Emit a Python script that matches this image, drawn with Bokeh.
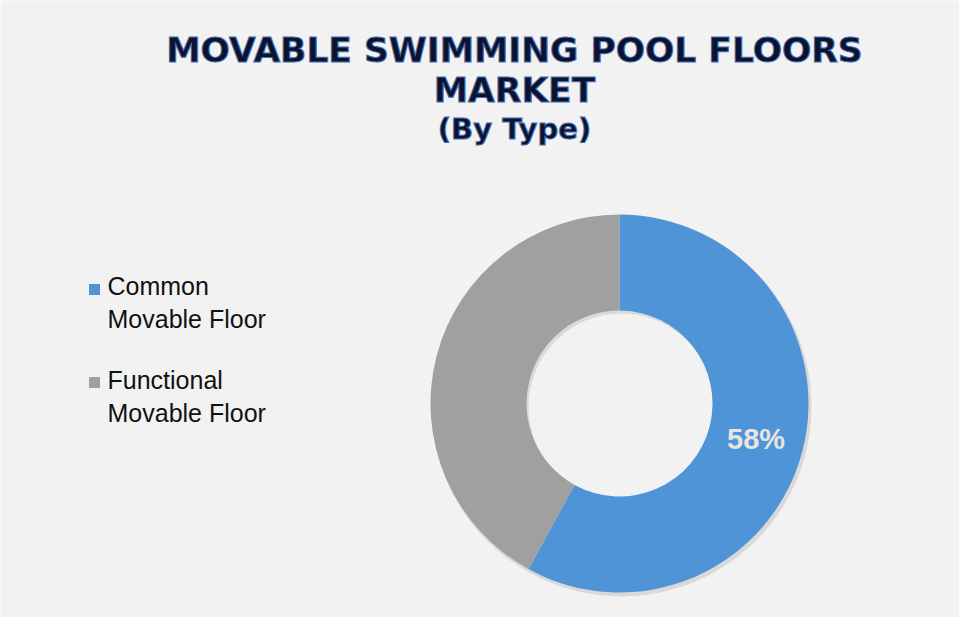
import math
from bokeh.plotting import figure
from bokeh.models import Range1d, ColumnDataSource
from bokeh.core.properties import value
from bokeh.embed import file_html
from bokeh.resources import INLINE

# ---- data ----
title_lines = ["MOVABLE SWIMMING POOL FLOORS", "MARKET", "(By Type)"]
categories = ["Common\nMovable Floor", "Functional\nMovable Floor"]
shares = [58, 42]
colors = ["#4f94d6", "#a0a0a0"]
show_label = [True, False]

W, H = 959, 617
BG = "#f2f2f2"

p = figure(width=W, height=H, output_backend="svg", toolbar_location=None,
           x_range=Range1d(0, W), y_range=Range1d(0, H), min_border=0,
           background_fill_color=BG, border_fill_color=BG, outline_line_color=None)
p.axis.visible = False
p.grid.visible = False

# screen -> data helpers (page has 8px margin)
def sx(x):
    return x - 8
def sy(y):
    return H - (y - 8)

cx, cy = sx(627), sy(411)
r_out, r_in = 189, 93

total = sum(shares)
starts, ends = [], []
a = math.pi / 2
for s in shares:
    starts.append(a)
    a -= 2 * math.pi * s / total
    ends.append(a)

src = ColumnDataSource(dict(start=starts, end=ends, color=colors))
# soft shadow
p.annular_wedge(x=cx + 2, y=cy - 3, inner_radius=r_in, outer_radius=r_out + 1,
                inner_radius_units="screen", outer_radius_units="screen",
                start_angle=math.pi / 2, end_angle=math.pi / 2 - 2 * math.pi + 1e-6,
                direction="clock", fill_color="#c8c8c8", fill_alpha=0.6, line_color=None)
p.annular_wedge(x=cx, y=cy, inner_radius=r_in, outer_radius=r_out,
                inner_radius_units="screen", outer_radius_units="screen",
                start_angle="start", end_angle="end", direction="clock",
                fill_color="color", line_color=None, source=src)

# data labels
lx, ly, lt = [], [], []
for s, st, en, show in zip(shares, starts, ends, show_label):
    if not show:
        continue
    mid = (st + en) / 2
    rm = (r_in + r_out) / 2
    lx.append(cx + rm * math.cos(mid))
    ly.append(cy + rm * math.sin(mid))
    lt.append(f"{s}%")
p.text(x=lx, y=ly, text=lt, text_font=value("Liberation Sans"), text_font_style="bold",
       text_font_size="29px", text_color="#e4e4e4", text_align="center",
       text_baseline="middle")

# title
ty = [sy(57), sy(97), sy(136)]
tsize = ["34.5px", "34.5px", "29px"]
for t, y, fs in zip(title_lines, ty, tsize):
    p.text(x=[sx(522)], y=[y], text=[t], text_font=value("DejaVu Sans"),
           text_font_style="bold", text_font_size=fs, text_color="#0a1430",
           text_outline_color="#4a6fae", text_align="center", text_baseline="middle")

# legend
leg_y = [sy(310), sy(404)]
sq_y = [sy(297), sy(390)]
p.scatter(x=[sx(102)] * len(categories), y=sq_y, marker="square", size=11,
          fill_color=colors, line_color=None)
p.text(x=[sx(115)] * len(categories), y=leg_y, text=categories,
       text_font=value("Liberation Sans"), text_font_size="25px", text_color="#111111",
       text_align="left", text_baseline="middle", text_line_height=1.2)

open("out.html", "w").write(file_html(p, INLINE))
